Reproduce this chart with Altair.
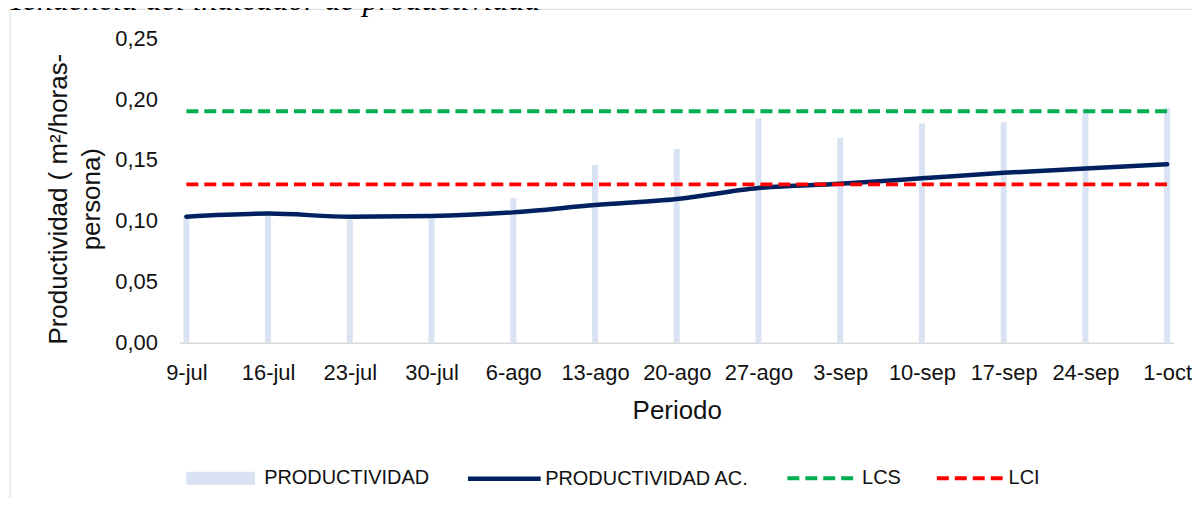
import altair as alt
import pandas as pd

periodos = ["9-jul", "16-jul", "23-jul", "30-jul", "6-ago", "13-ago", "20-ago",
            "27-ago", "3-sep", "10-sep", "17-sep", "24-sep", "1-oct"]
productividad = [0.104, 0.108, 0.101, 0.102, 0.119, 0.146, 0.159,
                 0.184, 0.168, 0.180, 0.181, 0.192, 0.193]
productividad_ac = [0.1035, 0.106, 0.1035, 0.104, 0.107, 0.113, 0.118,
                    0.127, 0.1305, 0.135, 0.1395, 0.143, 0.1465]
lcs = [0.19, 0.19, 0.19, 0.19, 0.19, 0.19, 0.19, 0.19, 0.19, 0.19, 0.19, 0.19, 0.19]
lci = [0.13, 0.13, 0.13, 0.13, 0.13, 0.13, 0.13, 0.13, 0.13, 0.13, 0.13, 0.13, 0.13]
series = ["PRODUCTIVIDAD", "PRODUCTIVIDAD AC.", "LCS", "LCI"]
colores = ["#DAE3F3", "#002060", "#00B050", "#FF0000"]
y_ticks = [0, 0.05, 0.10, 0.15, 0.20, 0.25]
titulo = "Tendencia del indicador de productividad"
titulo_y = ["Productividad ( m²/horas-", "persona)"]

df = pd.DataFrame({
    "Periodo": periodos,
    "prod": productividad,
    "prod_ac": productividad_ac,
    "lcs": lcs,
    "lci": lci,
})
df["s1"] = series[0]
df["s2"] = series[1]
df["s3"] = series[2]
df["s4"] = series[3]

FONT = "Liberation Sans"
TXT = "#111111"

x_scale = alt.Scale(type="point", padding=0.085)
y_scale = alt.Scale(domain=[0, 0.25], nice=False, zero=True)

x_axis = alt.Axis(
    title="Periodo", titleFontSize=26, titleFont=FONT, titleFontWeight="normal",
    titleColor=TXT, titleY=55, titleBaseline="top",
    labelFontSize=22, labelFont=FONT, labelColor=TXT, labelAngle=0,
    labelPadding=20, labelOverlap=False, labelFlush=False,
    ticks=False, tickSize=0, domain=True, domainColor="#D9D9D9", domainWidth=1.5,
    grid=False,
)
y_axis = alt.Axis(
    title=titulo_y, titleFontSize=26, titleFont=FONT, titleFontWeight="normal",
    titleColor=TXT, titleLineHeight=33, titleAngle=270, titleAlign="center",
    titleBaseline="top", titleX=-134, titleY=161,
    values=y_ticks, labelExpr="replace(format(datum.value, '.2f'), '.', ',')",
    labelFontSize=22, labelFont=FONT, labelColor=TXT, labelPadding=22,
    ticks=False, tickSize=0, domain=False, grid=False,
)


def leyenda(x, y, **kw):
    return alt.Legend(orient="none", legendX=x, legendY=y, title=None,
                      labelFontSize=20, labelFont=FONT, labelColor=TXT,
                      labelLimit=400, padding=0, **kw)


def enc_x():
    return alt.X("Periodo:N", sort=periodos, scale=x_scale, axis=x_axis)


def enc_y(campo):
    return alt.Y(campo + ":Q", scale=y_scale, axis=y_axis)


base = alt.Chart(df)

bars = base.mark_bar(size=6).encode(
    x=enc_x(),
    y=enc_y("prod"),
    color=alt.Color("s1:N", scale=alt.Scale(domain=[series[0]], range=[colores[0]]),
                    legend=leyenda(7, 407, symbolType="M-1,-0.19H1V0.19H-1Z",
                                   symbolSize=4761, symbolStrokeWidth=0,
                                   labelOffset=9)),
)

line = base.mark_line(strokeWidth=4.5, interpolate="monotone", strokeCap="round").encode(
    x=enc_x(),
    y=enc_y("prod_ac"),
    color=alt.Color("s2:N", scale=alt.Scale(domain=[series[1]], range=[colores[1]]),
                    legend=leyenda(287, 403, symbolType="stroke", symbolSize=5329,
                                   symbolStrokeWidth=4.5, labelOffset=2)),
)

lcs_line = base.mark_line(strokeWidth=4, strokeDash=[12, 6]).encode(
    x=enc_x(),
    y=enc_y("lcs"),
    color=alt.Color("s3:N", scale=alt.Scale(domain=[series[2]], range=[colores[2]]),
                    legend=leyenda(608, 405, symbolType="stroke", symbolSize=4761,
                                   symbolStrokeWidth=4, symbolDash=[12, 6],
                                   labelOffset=4)),
)

lci_line = base.mark_line(strokeWidth=4, strokeDash=[12, 6]).encode(
    x=enc_x(),
    y=enc_y("lci"),
    color=alt.Color("s4:N", scale=alt.Scale(domain=[series[3]], range=[colores[3]]),
                    legend=leyenda(758, 406, symbolType="stroke", symbolSize=4489,
                                   symbolStrokeWidth=4, symbolDash=[12, 6],
                                   labelOffset=3)),
)

titulo_df = pd.DataFrame({"t": [titulo]})
title_text = alt.Chart(titulo_df).mark_text(
    font="Liberation Serif", fontStyle="italic", fontSize=32, color="#000000",
    align="left", baseline="alphabetic",
).encode(text="t:N", x=alt.value(-172), y=alt.value(-28))

frame = alt.Chart(titulo_df).mark_rect(filled=False, stroke="#D9D9D9", strokeWidth=1).encode(
    x=alt.value(-170), x2=alt.value(1100), y=alt.value(-29), y2=alt.value(700)
)

chart = alt.layer(frame, title_text, bars, line, lcs_line, lci_line).resolve_scale(
    color="independent"
).properties(
    width=998, height=305.5,
    autosize=alt.AutoSizeParams(type="none"),
    padding={"left": 172, "top": 29.5, "right": 18, "bottom": 155},
    background="white",
).configure_view(stroke=None)

chart.save("out.html", embed_options={"renderer": "svg", "actions": False})
